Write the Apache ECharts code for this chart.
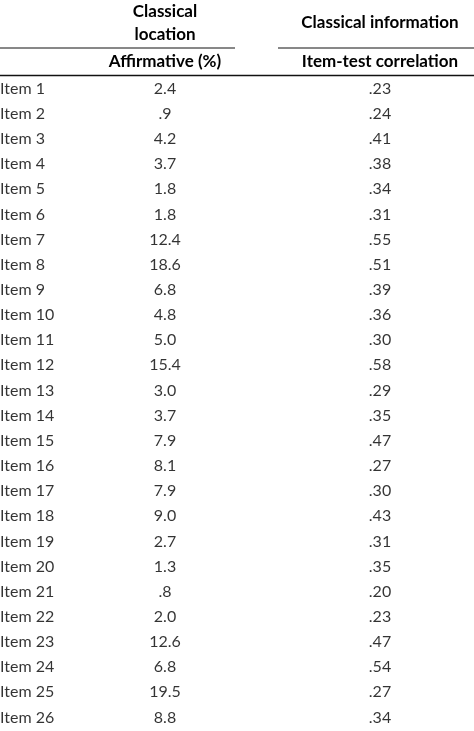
<!DOCTYPE html>
<html><head><meta charset="utf-8">
<script src="https://cdn.jsdelivr.net/npm/echarts@6/dist/echarts.min.js"></script>
<style>html,body{margin:0;padding:0;background:#fff}#c{width:474px;height:731px}</style>
</head><body><div id="c"></div>
<script>
const items = ['Item 1','Item 2','Item 3','Item 4','Item 5','Item 6','Item 7','Item 8','Item 9','Item 10','Item 11','Item 12','Item 13','Item 14','Item 15','Item 16','Item 17','Item 18','Item 19','Item 20','Item 21','Item 22','Item 23','Item 24','Item 25','Item 26'];
const affirmative = ['2.4','.9','4.2','3.7','1.8','1.8','12.4','18.6','6.8','4.8','5.0','15.4','3.0','3.7','7.9','8.1','7.9','9.0','2.7','1.3','.8','2.0','12.6','6.8','19.5','8.8'];
const correlation = ['.23','.24','.41','.38','.34','.31','.55','.51','.39','.36','.30','.58','.29','.35','.47','.27','.30','.43','.31','.35','.20','.23','.47','.54','.27','.34'];
const FONT = 'Lato';
const COLX = [0, 165, 380];
const chart = echarts.init(document.getElementById('c'));
function ser(vals, col, align){
  return {type:'scatter', symbolSize:0, silent:true,
    data: vals.map((v,i)=>({value:[COLX[col], items[i]], txt:v})),
    label:{show:true, position:'inside', align:align, verticalAlign:'middle',
      formatter:p=>p.data.txt, color:'#000', fontSize:16, fontFamily:FONT}};
}
const hdr = {fontSize:17, fontWeight:'bold', fontFamily:FONT, fill:'#000', textAlign:'center', textVerticalAlign:'middle'};
chart.setOption({
  animation:false,
  grid:{left:0,right:0,top:76,bottom:1},
  xAxis:{type:'value',min:0,max:474,show:false},
  yAxis:{type:'category',data:items,inverse:true,show:false},
  series:[ser(items,0,'left'), ser(affirmative,1,'center'), ser(correlation,2,'center')],
  graphic:[
    {type:'text',x:165,y:12,style:Object.assign({text:'Classical'},hdr)},
    {type:'text',x:165,y:35,style:Object.assign({text:'location'},hdr)},
    {type:'text',x:380,y:23,style:Object.assign({text:'Classical information'},hdr)},
    {type:'text',x:165,y:62,style:Object.assign({text:'Affirmative (%)'},hdr)},
    {type:'text',x:380,y:62,style:Object.assign({text:'Item-test correlation'},hdr)},
    {type:'line',shape:{x1:0,y1:48,x2:235,y2:48},style:{stroke:'#111',lineWidth:1}},
    {type:'line',shape:{x1:278,y1:48,x2:474,y2:48},style:{stroke:'#111',lineWidth:1}},
    {type:'line',shape:{x1:0,y1:75.5,x2:474,y2:75.5},style:{stroke:'#111',lineWidth:1.3}}
  ]
});
</script></body></html>
